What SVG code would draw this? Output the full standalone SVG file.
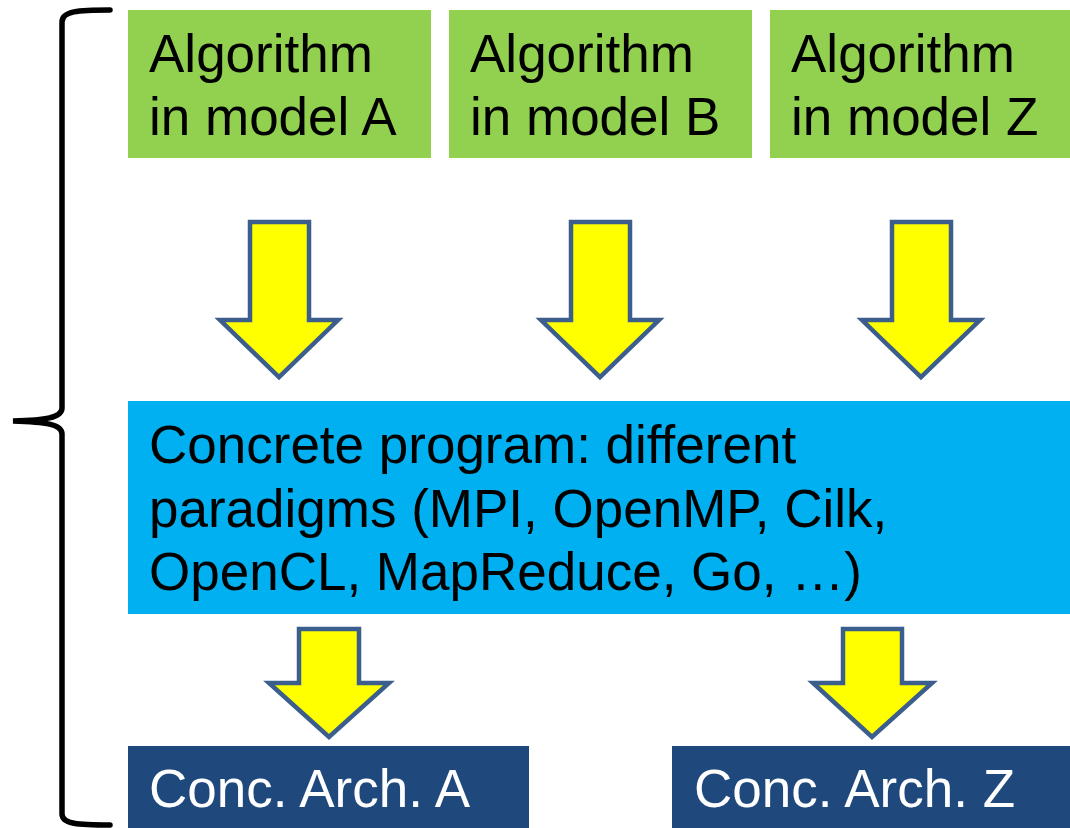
<svg xmlns="http://www.w3.org/2000/svg" width="1070" height="828" viewBox="0 0 1070 828">
<style>
.t{font-family:"Liberation Sans",Arial,sans-serif;font-size:53px;fill:#000}
.w{fill:#fff}
.arrow{fill:#ffff00;stroke:#3b5e8c;stroke-width:4.5;stroke-linejoin:miter}
</style>
<rect width="1070" height="828" fill="#fff"/>
<g id="brace">
<path d="M110,10 C78,10 62,11 62,22 L62,408 C62,418 45,420 13,421 C45,422 62,424 62,434 L62,814 C62,824 78,825 110,825" fill="none" stroke="#000" stroke-width="5.5" stroke-linecap="round"/>
</g>
<g id="algA">
<rect x="128" y="10" width="303" height="148" fill="#92d050"/>
<text class="t" x="149" y="72">Algorithm</text>
<text class="t" x="149" y="135">in model A</text>
</g>
<g id="algB">
<rect x="449" y="10" width="303" height="148" fill="#92d050"/>
<text class="t" x="470" y="72">Algorithm</text>
<text class="t" x="470" y="135">in model B</text>
</g>
<g id="algZ">
<rect x="770" y="10" width="300" height="148" fill="#92d050"/>
<text class="t" x="791" y="72">Algorithm</text>
<text class="t" x="791" y="135">in model Z</text>
</g>
<g id="program">
<rect x="128" y="401" width="942" height="213" fill="#00b0f0"/>
<text class="t" x="149" y="463">Concrete program: different</text>
<text class="t" x="149" y="527">paradigms (MPI, OpenMP, Cilk,</text>
<text class="t" x="149" y="590">OpenCL, MapReduce, Go, …)</text>
</g>
<g id="archA">
<rect x="128" y="746" width="401" height="82" fill="#1f497d"/>
<text class="t w" x="149" y="807">Conc. Arch. A</text>
</g>
<g id="archZ">
<rect x="672" y="746" width="398" height="82" fill="#1f497d"/>
<text class="t w" x="694" y="807">Conc. Arch. Z</text>
</g>
<g id="connectors">
<path class="arrow" d="M250,222 H309 V320 H338 L279,377 L220,320 H250 Z"/>
<path class="arrow" d="M571,222 H630 V320 H659 L600,377 L541,320 H571 Z"/>
<path class="arrow" d="M892,222 H951 V320 H980 L921,377 L862,320 H892 Z"/>
<path class="arrow" d="M299,629 H359 V683 H389 L329,737 L269,683 H299 Z"/>
<path class="arrow" d="M843,629 H902 V683 H932 L872,737 L813,683 H843 Z"/>
</g>
</svg>
